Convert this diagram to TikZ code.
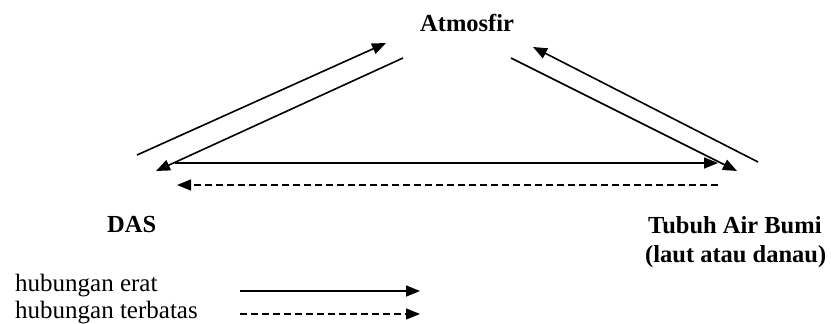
\documentclass[tikz,border=0pt]{standalone}
\usepackage{fontspec}
\setmainfont{Liberation Serif}
\usetikzlibrary{arrows.meta}
\tikzset{
  lbl/.style={inner sep=0pt, anchor=base west, font=\fontsize{24.5}{29}\selectfont\bfseries},
  legtext/.style={inner sep=0pt, anchor=base west, font=\fontsize{25}{29}\selectfont},
  strong/.style={line width=1.6pt, -{Triangle[length=14pt,width=11pt]}},
  weak/.style={line width=1.4pt, dash pattern=on 7pt off 4pt, -{Triangle[length=14pt,width=11pt]}}
}
\begin{document}
\begin{tikzpicture}[x=1pt,y=-1pt]
  \useasboundingbox (0,0) rectangle (831,324);
  % place labels
  \node[lbl] (atm) at (420,31) {Atmosfir};
  \node[lbl] (das) at (107,232) {DAS};
  \node[lbl] (tab) at (648,233) {Tubuh Air Bumi};
  \node[lbl] (tab2) at (645,262) {(laut atau danau)};
  % end points of the flows
  \coordinate (dasUp) at (137,155);
  \coordinate (atmL1) at (386,43);
  \coordinate (atmL2) at (403,58);
  \coordinate (dasIn) at (156,171);
  \coordinate (dasH) at (175,163);
  \coordinate (tabH) at (718,163);
  \coordinate (tabD) at (718,185);
  \coordinate (dasD) at (177,185);
  \coordinate (atmR1) at (511,58);
  \coordinate (tabIn) at (737,171);
  \coordinate (tabUp) at (758,162);
  \coordinate (atmR2) at (533,47);
  % flows
  \draw[strong] (dasUp) -- (atmL1);
  \draw[strong] (atmL2) -- (dasIn);
  \draw[strong] (dasH) -- (tabH);
  \draw[weak] (tabD) -- (dasD);
  \draw[strong] (atmR1) -- (tabIn);
  \draw[strong] (tabUp) -- (atmR2);
  % legend
  \node[legtext] (le1) at (15,291) {hubungan erat};
  \node[legtext] (le2) at (15,318) {hubungan terbatas};
  \coordinate (ls1) at (240,291);
  \coordinate (le1e) at (420,291);
  \coordinate (ls2) at (240,314);
  \coordinate (le2e) at (420,314);
  \draw[strong] (ls1) -- (le1e);
  \draw[weak] (ls2) -- (le2e);
\end{tikzpicture}
\end{document}
